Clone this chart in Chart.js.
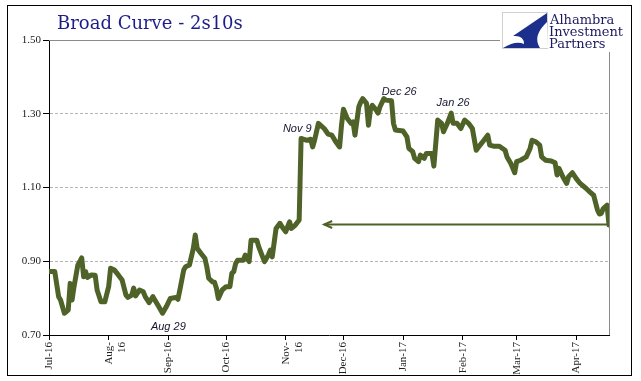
<!DOCTYPE html>
<html><head><meta charset="utf-8">
<script src="https://cdn.jsdelivr.net/npm/chart.js@4"></script>
<style>html,body{margin:0;padding:0;background:#fff}canvas{display:block}</style>
</head><body>
<canvas id="c" width="641" height="381"></canvas>
<script>
const dates = ['2016-07-01','2016-07-04','2016-07-06','2016-07-07','2016-07-09','2016-07-10','2016-07-11','2016-07-12','2016-07-13','2016-07-14','2016-07-16','2016-07-17','2016-07-18','2016-07-19','2016-07-20','2016-07-21','2016-07-23','2016-07-25','2016-07-26','2016-07-28','2016-07-30',
'2016-08-01','2016-08-02','2016-08-04','2016-08-06','2016-08-08','2016-08-10','2016-08-11','2016-08-13','2016-08-14','2016-08-15','2016-08-17','2016-08-19','2016-08-20','2016-08-22','2016-08-24','2016-08-25','2016-08-27','2016-08-29','2016-08-31',
'2016-09-02','2016-09-05','2016-09-06','2016-09-07','2016-09-09','2016-09-10','2016-09-12','2016-09-14','2016-09-15','2016-09-16','2016-09-18','2016-09-20','2016-09-21','2016-09-22','2016-09-24','2016-09-25','2016-09-26','2016-09-27','2016-09-29',
'2016-10-01','2016-10-03','2016-10-04','2016-10-05','2016-10-06','2016-10-07','2016-10-10','2016-10-11','2016-10-13','2016-10-14','2016-10-17','2016-10-18','2016-10-20','2016-10-21','2016-10-23','2016-10-24','2016-10-25','2016-10-27','2016-10-29','2016-10-30',
'2016-11-01','2016-11-03','2016-11-04','2016-11-06','2016-11-08','2016-11-09','2016-11-12','2016-11-14','2016-11-15','2016-11-16','2016-11-18','2016-11-21','2016-11-23','2016-11-25','2016-11-27','2016-11-29','2016-11-30',
'2016-12-01','2016-12-03','2016-12-05','2016-12-06','2016-12-07','2016-12-09','2016-12-10','2016-12-11','2016-12-13','2016-12-14','2016-12-15','2016-12-16','2016-12-18','2016-12-19','2016-12-20','2016-12-22','2016-12-23','2016-12-26','2016-12-27','2016-12-28',
'2017-01-01','2017-01-03','2017-01-04','2017-01-06','2017-01-07','2017-01-09','2017-01-10','2017-01-12','2017-01-13','2017-01-16','2017-01-17','2017-01-19','2017-01-21','2017-01-22','2017-01-24','2017-01-26','2017-01-27','2017-01-29','2017-01-31',
'2017-02-02','2017-02-04','2017-02-06','2017-02-08','2017-02-10','2017-02-12','2017-02-14','2017-02-15','2017-02-17','2017-02-20','2017-02-23','2017-02-24','2017-02-26','2017-02-28',
'2017-03-01','2017-03-03','2017-03-06','2017-03-08','2017-03-09','2017-03-11','2017-03-13','2017-03-14','2017-03-16','2017-03-19','2017-03-21','2017-03-22','2017-03-23','2017-03-25','2017-03-27','2017-03-28','2017-03-30',
'2017-04-01','2017-04-03','2017-04-06','2017-04-08','2017-04-10','2017-04-12','2017-04-13','2017-04-14','2017-04-15','2017-04-17','2017-04-18'];
const values = [0.872,0.872,0.804,0.795,0.759,0.763,0.768,0.840,0.795,0.831,0.890,0.899,0.909,0.858,0.872,0.856,0.863,0.862,0.822,0.790,0.790,
0.831,0.881,0.876,0.863,0.849,0.808,0.802,0.808,0.827,0.806,0.822,0.817,0.804,0.788,0.804,0.795,0.777,0.759,0.777,
0.799,0.802,0.797,0.822,0.876,0.885,0.890,0.935,0.971,0.935,0.921,0.908,0.885,0.854,0.844,0.843,0.827,0.799,0.822,
0.831,0.831,0.867,0.872,0.894,0.903,0.903,0.917,0.899,0.957,0.957,0.939,0.912,0.899,0.917,0.930,0.912,0.989,1.003,0.994,
0.980,1.007,0.989,0.998,1.012,1.233,1.228,1.231,1.210,1.228,1.274,1.260,1.245,1.242,1.224,1.210,1.269,
1.312,1.287,1.274,1.278,1.242,1.319,1.332,1.341,1.328,1.269,1.310,1.323,1.310,1.302,1.319,1.341,1.337,1.335,1.274,1.256,
1.253,1.237,1.206,1.197,1.179,1.170,1.188,1.179,1.192,1.192,1.158,1.283,1.274,1.251,1.274,1.302,1.274,1.274,1.260,
1.283,1.274,1.260,1.201,1.215,1.228,1.242,1.215,1.212,1.212,1.201,1.183,1.165,1.140,
1.170,1.174,1.183,1.206,1.228,1.224,1.215,1.183,1.174,1.172,1.167,1.134,1.152,1.129,1.111,1.129,1.140,
1.124,1.111,1.098,1.088,1.079,1.039,1.028,1.030,1.043,1.052,0.998];

const xTickDates = ['2016-07-01','2016-08-01','2016-09-01','2016-10-01','2016-11-01','2016-12-01','2017-01-01','2017-02-01','2017-03-01','2017-04-01'];
const xTickLabels = ['Jul-16',['Aug-','16'],'Sep-16','Oct-16',['Nov-','16'],'Dec-16','Jan-17','Feb-17','Mar-17','Apr-17'];
const yTickValues = [0.70,0.90,1.10,1.30,1.50];

const noteTexts = ['Aug 29','Nov 9','Dec 26','Jan 26'];
const noteDates = ['2016-09-01','2016-11-07','2016-12-30','2017-01-27'];
const noteValues = [0.7225,1.2575,1.358,1.328];

const arrowFrom = '2016-11-21';
const arrowTo = '2017-04-18';
const arrowLevel = 1.00;

const origin = Date.parse('2016-07-01');
const dayOf = s => (Date.parse(s) - origin) / 86400000;
const xMax = dayOf('2017-04-18');

const points = dates.map((d,i)=>({x: dayOf(d), y: values[i]}));
const OLIVE = '#4f6228';

const deco = {
  id: 'deco',
  beforeDatasetsDraw(chart){
    const {ctx, chartArea:a} = chart;
    ctx.save();
    ctx.strokeStyle = '#8a8a8a'; ctx.lineWidth = 1;
    ctx.beginPath();
    ctx.moveTo(a.left, Math.round(a.top)+0.5); ctx.lineTo(a.right, Math.round(a.top)+0.5);
    ctx.moveTo(Math.round(a.right)+0.5, a.top); ctx.lineTo(Math.round(a.right)+0.5, a.bottom);
    ctx.stroke();
    ctx.restore();
  },
  afterDraw(chart){
    const {ctx, scales:{x, y}} = chart;
    ctx.save();
    // arrow
    const ay = Math.round(y.getPixelForValue(arrowLevel)) + 0.5;
    const x0 = x.getPixelForValue(dayOf(arrowFrom));
    const x1 = x.getPixelForValue(dayOf(arrowTo));
    ctx.strokeStyle = OLIVE; ctx.lineWidth = 2; ctx.lineCap = 'butt';
    ctx.beginPath(); ctx.moveTo(x0, ay); ctx.lineTo(x1, ay); ctx.stroke();
    ctx.beginPath(); ctx.moveTo(x0+8, ay-3.5); ctx.lineTo(x0, ay); ctx.lineTo(x0+8, ay+3.5); ctx.stroke();
    // notes
    ctx.fillStyle = '#15152e';
    ctx.font = 'italic 11px "Liberation Sans", Arial, sans-serif';
    ctx.textAlign = 'center'; ctx.textBaseline = 'middle';
    noteTexts.forEach((t,i)=>{
      ctx.fillText(t, x.getPixelForValue(dayOf(noteDates[i])), y.getPixelForValue(noteValues[i]));
    });
    // logo
    ctx.fillStyle = '#fff';
    ctx.fillRect(500, 9, 126, 43);
    ctx.strokeStyle = '#d0d0d0'; ctx.lineWidth = 1;
    ctx.strokeRect(502.5, 12.5, 45, 36);
    ctx.fillStyle = '#1c2f8c';
    ctx.beginPath();
    ctx.moveTo(547, 13);
    ctx.lineTo(513, 36);
    ctx.quadraticCurveTo(524, 35, 524, 44);
    ctx.quadraticCurveTo(516, 40, 503, 48);
    ctx.lineTo(547, 48);
    ctx.closePath();
    ctx.fill();
    ctx.fillStyle = '#fff';
    ctx.beginPath();
    ctx.moveTo(547, 22);
    ctx.quadraticCurveTo(532, 36, 540, 48);
    ctx.lineTo(548, 48);
    ctx.closePath();
    ctx.fill();
    ctx.fillStyle = '#1a1a5e';
    ctx.font = '13px "DejaVu Serif", serif';
    ctx.textAlign = 'left'; ctx.textBaseline = 'alphabetic';
    ctx.fillText('Alhambra', 550, 24);
    ctx.fillText('Investment', 549, 36);
    ctx.fillText('Partners', 549, 47.5);
    // title
    ctx.fillStyle = '#1d1d8a';
    ctx.font = '18px "DejaVu Serif", serif';
    ctx.fillText('Broad Curve - 2s10s', 57, 29);
    // frame
    ctx.strokeStyle = '#000'; ctx.lineWidth = 1;
    ctx.strokeRect(7.5, 5.5, 624, 370);
    ctx.restore();
  }
};

new Chart(document.getElementById('c'), {
  type: 'line',
  data: { datasets: [{
    data: points,
    borderColor: OLIVE, borderWidth: 5, pointRadius: 0,
    borderJoinStyle: 'round', borderCapStyle: 'round', tension: 0, fill: false
  }]},
  options: {
    responsive: false, animation: false, devicePixelRatio: 1,
    layout: { padding: { left: 0, right: 32, top: 40, bottom: 0 } },
    plugins: { legend: {display:false}, tooltip: {enabled:false}, title: {display:false} },
    scales: {
      x: {
        type: 'linear', min: 0, max: xMax,
        afterFit(s){ s.height = 46; },
        afterBuildTicks(s){ s.ticks = xTickDates.map(d=>({value: dayOf(d)})); },
        ticks: {
          autoSkip: false, minRotation: 90, maxRotation: 90, padding: 2,
          color: '#222', font: { family: '"Liberation Serif", "Times New Roman", serif', size: 11 },
          callback: (v, i) => xTickLabels[i]
        },
        grid: { drawOnChartArea: false, drawTicks: true, tickLength: 5, color: '#000', tickColor: '#000' },
        border: { display: true, color: '#000', width: 1 }
      },
      y: {
        min: 0.7, max: 1.5,
        afterFit(s){ s.width = 49; },
        afterBuildTicks(s){ s.ticks = yTickValues.map(v=>({value: v})); },
        ticks: {
          padding: 2, color: '#222',
          font: { family: '"Liberation Serif", "Times New Roman", serif', size: 11 },
          callback: v => v.toFixed(2)
        },
        grid: { color: '#b4b4b4', lineWidth: 1, tickLength: 6, tickColor: '#000', tickBorderDash: [] },
        border: { display: true, color: '#000', width: 1, dash: [3,2] }
      }
    }
  },
  plugins: [deco]
});
</script>
</body></html>
